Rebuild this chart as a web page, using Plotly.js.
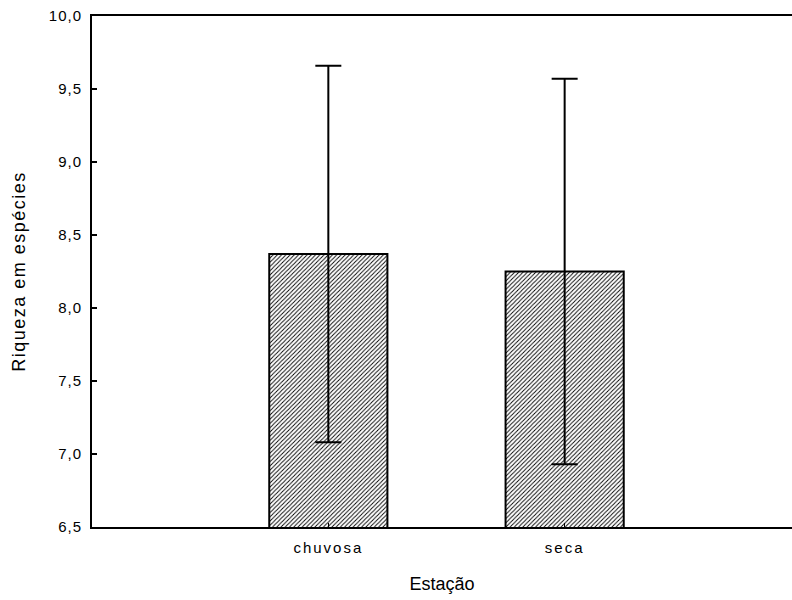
<!DOCTYPE html>
<html>
<head>
<meta charset="utf-8">
<script src="https://cdn.plot.ly/plotly-3.0.1.min.js"></script>
<style>
html,body{margin:0;padding:0;overflow:hidden;background:#fff;}
#chart{width:792px;height:600px;}
</style>
</head>
<body>
<div id="chart"></div>
<script>
var categories = ["chuvosa", "seca"];
var means = [8.37, 8.25];
var errors = [1.29, 1.32];
var yTickVals = [6.5, 7.0, 7.5, 8.0, 8.5, 9.0, 9.5, 10.0];

var trace = {
  type: "bar",
  x: [0, 1],
  y: means,
  width: 0.5,
  marker: {
    color: "#ffffff",
    line: {color: "#000000", width: 2},
    pattern: {shape: "/", fgcolor: "#000000", bgcolor: "#ffffff", size: 3, solidity: 0.3}
  },
  error_y: {type: "data", array: errors, visible: true, color: "#000000", thickness: 2, width: 13},
  hoverinfo: "skip"
};

var font = "Liberation Sans, Arial, sans-serif";
var layout = {
  width: 792, height: 600,
  margin: {l: 92, r: 0, t: 16, b: 73},
  separators: ",.",
  showlegend: false,
  paper_bgcolor: "#ffffff",
  plot_bgcolor: "#ffffff",
  font: {family: font, color: "#000000", size: 15},
  xaxis: {
    range: [-1, 1.962],
    tickmode: "array",
    tickvals: [0, 1],
    ticktext: categories,
    ticks: "inside", ticklen: 4, tickwidth: 1, tickcolor: "#000",
    showline: true, linecolor: "#000", linewidth: 2, mirror: true,
    showgrid: false, zeroline: false,
    tickfont: {family: font, size: 15},
    ticklabelstandoff: 6,
    title: {text: "Estação", font: {family: font, size: 18}, standoff: 22}
  },
  yaxis: {
    range: [6.5, 10.0],
    tickmode: "array",
    tickvals: yTickVals,
    tickformat: ".1f",
    ticks: "inside", ticklen: 5, tickwidth: 1.5, tickcolor: "#000",
    showline: true, linecolor: "#000", linewidth: 2, mirror: false,
    showgrid: false, zeroline: false,
    tickfont: {family: font, size: 15},
    ticklabelstandoff: 5,
    title: {text: "Riqueza em espécies", font: {family: font, size: 18}, standoff: 22}
  }
};

Plotly.newPlot("chart", [trace], layout, {staticPlot: true, displayModeBar: false}).then(function () {
  document.querySelectorAll(".ytick text").forEach(function (t) { t.style.letterSpacing = "1px"; });
  document.querySelectorAll(".xtick text").forEach(function (t) { t.style.letterSpacing = "2px"; });
  document.querySelectorAll(".g-ytitle text").forEach(function (t) { t.style.letterSpacing = "1.5px"; });
});
</script>
</body>
</html>
